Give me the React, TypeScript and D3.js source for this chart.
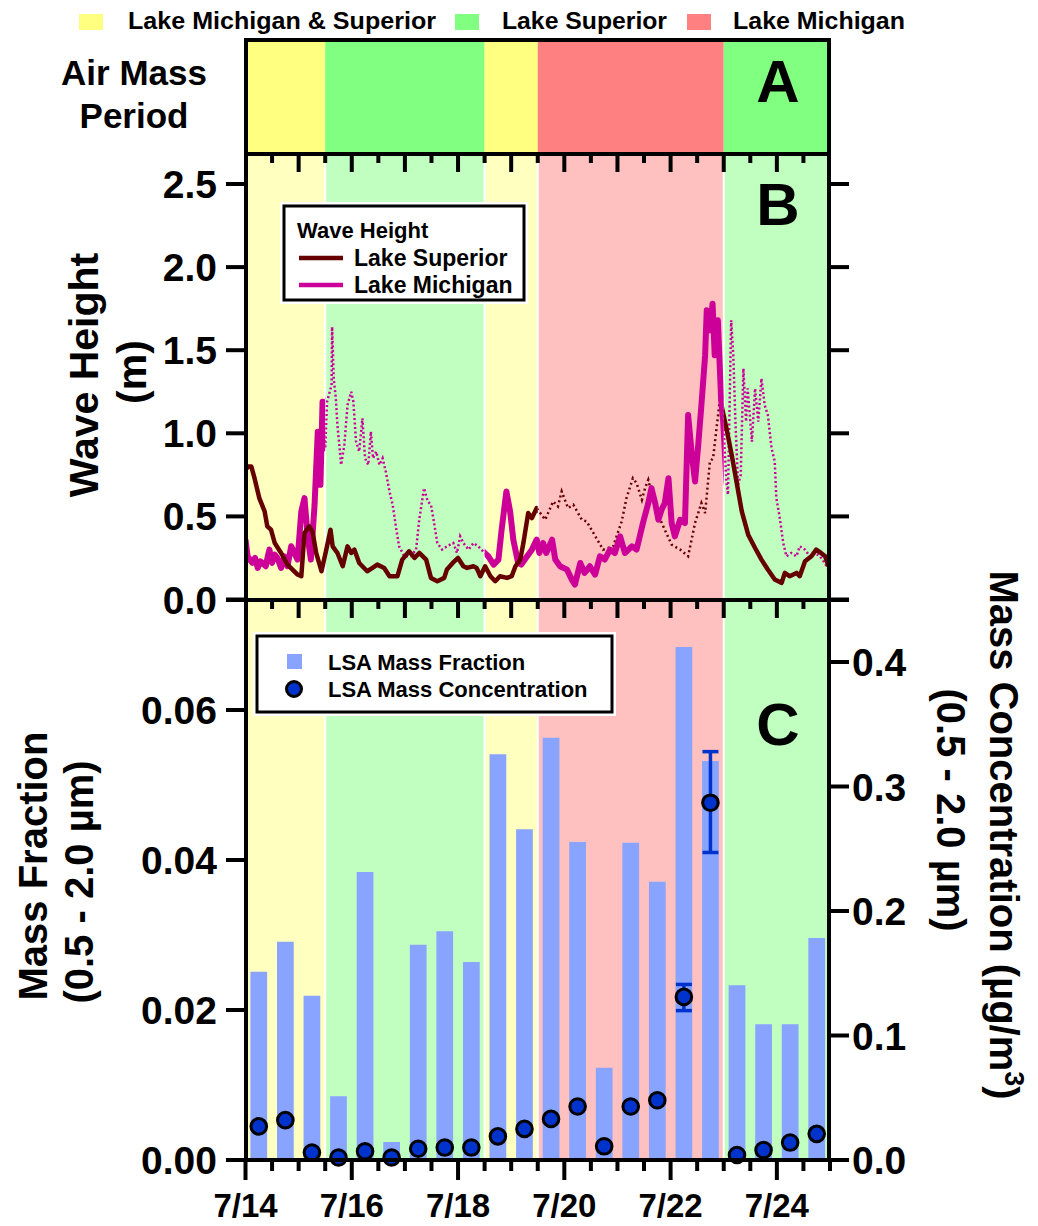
import React from "react";
import * as d3 from "d3";

// ---- Air mass periods (days since 7/14 00:00) ----
const periodStart = [0, 1.5, 4.5, 5.5, 9.0];
const periodEnd = [1.5, 4.5, 5.5, 9.0, 11];
const periodType = ["both", "superior", "both", "michigan", "superior"];

const legendLabels = ["Lake Michigan & Superior", "Lake Superior", "Lake Michigan"];
const legendTypes = ["both", "superior", "michigan"];

// ---- Wave height (m) [day, value] ----
const superiorWave: [number, number][] = [
  [0.0, 0.78], [0.05, 0.8], [0.11, 0.8], [0.17, 0.73], [0.26, 0.61], [0.36, 0.53], [0.41, 0.44],
  [0.48, 0.42], [0.55, 0.34], [0.67, 0.28], [0.79, 0.21], [0.98, 0.15], [1.05, 0.14], [1.11, 0.4],
  [1.2, 0.44], [1.26, 0.41], [1.33, 0.28], [1.43, 0.17], [1.52, 0.3], [1.6, 0.42], [1.64, 0.32],
  [1.73, 0.28], [1.83, 0.2], [1.92, 0.32], [1.99, 0.28], [2.05, 0.3], [2.14, 0.22], [2.29, 0.17],
  [2.39, 0.19], [2.48, 0.21], [2.61, 0.19], [2.71, 0.14], [2.86, 0.14], [2.95, 0.24], [3.08, 0.29],
  [3.18, 0.25], [3.27, 0.28], [3.4, 0.24], [3.49, 0.13], [3.61, 0.11], [3.74, 0.13], [3.79, 0.18],
  [3.9, 0.22], [4.0, 0.25], [4.1, 0.2], [4.17, 0.19], [4.29, 0.2], [4.35, 0.19], [4.42, 0.14],
  [4.51, 0.2], [4.61, 0.14], [4.7, 0.11], [4.79, 0.14], [4.92, 0.13], [5.01, 0.14], [5.08, 0.2],
  [5.17, 0.24], [5.23, 0.34], [5.32, 0.52], [5.39, 0.49], [5.48, 0.55], [5.64, 0.48], [5.79, 0.59],
  [5.88, 0.56], [5.95, 0.65], [6.07, 0.55], [6.17, 0.57], [6.33, 0.48], [6.42, 0.47], [6.73, 0.3],
  [6.92, 0.32], [7.08, 0.47], [7.17, 0.61], [7.29, 0.73], [7.36, 0.7], [7.46, 0.6], [7.52, 0.67],
  [7.58, 0.72], [7.71, 0.55], [7.89, 0.42], [8.02, 0.33], [8.18, 0.3], [8.33, 0.26], [8.46, 0.46],
  [8.58, 0.58], [8.65, 0.52], [8.74, 0.83], [8.8, 0.85], [8.93, 1.21], [9.05, 1.03], [9.15, 0.87],
  [9.24, 0.71], [9.34, 0.53], [9.46, 0.39], [9.59, 0.31], [9.71, 0.24], [9.83, 0.18], [9.96, 0.12],
  [10.09, 0.1], [10.15, 0.16], [10.24, 0.14], [10.37, 0.16], [10.43, 0.14], [10.53, 0.23],
  [10.65, 0.26], [10.74, 0.3], [10.83, 0.28], [10.91, 0.26], [10.97, 0.2],
];

const michiganWave: [number, number][] = [
  [0.0, 0.36], [0.04, 0.26], [0.08, 0.24], [0.13, 0.22], [0.18, 0.25], [0.23, 0.19], [0.28, 0.23],
  [0.32, 0.22], [0.38, 0.2], [0.42, 0.26], [0.45, 0.3], [0.5, 0.22], [0.55, 0.27], [0.6, 0.25],
  [0.67, 0.19], [0.73, 0.26], [0.79, 0.2], [0.86, 0.32], [0.92, 0.28], [0.98, 0.24], [1.05, 0.53],
  [1.11, 0.61], [1.17, 0.38], [1.23, 0.24], [1.3, 0.57], [1.36, 1.01], [1.41, 0.69], [1.45, 1.19],
  [1.5, 0.91], [1.535, 1.19], [1.62, 1.29], [1.63, 1.64], [1.66, 1.33], [1.7, 1.21], [1.73, 1.05],
  [1.8, 0.81], [1.86, 0.93], [1.92, 1.17], [1.99, 1.25], [2.03, 1.19], [2.08, 0.95], [2.14, 0.89],
  [2.2, 1.09], [2.25, 0.85], [2.31, 0.81], [2.36, 1.01], [2.4, 0.85], [2.46, 0.89], [2.52, 0.81],
  [2.58, 0.85], [2.64, 0.77], [2.71, 0.65], [2.77, 0.57], [2.83, 0.44], [2.89, 0.32], [2.99, 0.26],
  [3.11, 0.26], [3.21, 0.3], [3.27, 0.48], [3.36, 0.67], [3.43, 0.59], [3.49, 0.57], [3.55, 0.46],
  [3.61, 0.34], [3.7, 0.3], [3.79, 0.32], [3.91, 0.34], [3.98, 0.28], [4.04, 0.38], [4.1, 0.34],
  [4.2, 0.3], [4.29, 0.34], [4.38, 0.32], [4.44, 0.3], [4.5, 0.28], [4.57, 0.26], [4.67, 0.21],
  [4.76, 0.24], [4.82, 0.42], [4.91, 0.65], [4.98, 0.53], [5.04, 0.36], [5.13, 0.22], [5.19, 0.21],
  [5.3, 0.26], [5.39, 0.3], [5.48, 0.36], [5.53, 0.28], [5.6, 0.34], [5.66, 0.28], [5.77, 0.36],
  [5.83, 0.24], [5.92, 0.2], [6.05, 0.18], [6.14, 0.12], [6.2, 0.09], [6.3, 0.22], [6.38, 0.16],
  [6.48, 0.2], [6.58, 0.15], [6.67, 0.26], [6.76, 0.24], [6.86, 0.3], [6.95, 0.28], [7.05, 0.38],
  [7.14, 0.28], [7.27, 0.32], [7.36, 0.3], [7.42, 0.38], [7.48, 0.46], [7.58, 0.58], [7.64, 0.67],
  [7.71, 0.58], [7.77, 0.48], [7.83, 0.54], [7.89, 0.58], [7.96, 0.73], [8.02, 0.46], [8.08, 0.38],
  [8.18, 0.48], [8.27, 0.46], [8.33, 1.11], [8.4, 0.87], [8.46, 0.71], [8.52, 0.93], [8.58, 1.17],
  [8.65, 1.47], [8.68, 1.74], [8.74, 1.62], [8.79, 1.78], [8.83, 1.47], [8.89, 1.68], [8.95, 1.21],
  [8.99, 1.07], [9.05, 0.71], [9.08, 0.63], [9.14, 1.68], [9.18, 1.47], [9.22, 1.07], [9.27, 0.69],
  [9.32, 0.75], [9.37, 1.39], [9.42, 1.07], [9.45, 1.27], [9.53, 0.95], [9.59, 1.27], [9.65, 1.07],
  [9.71, 1.33], [9.77, 1.17], [9.83, 1.11], [9.9, 0.91], [9.96, 0.83], [9.99, 0.61], [10.05, 0.5],
  [10.12, 0.34], [10.18, 0.26], [10.27, 0.28], [10.37, 0.26], [10.43, 0.32], [10.53, 0.3],
  [10.62, 0.26], [10.72, 0.28], [10.81, 0.26], [10.9, 0.22], [10.97, 0.18],
];

// ---- LSA samples (12 h samples, centre time in days) ----
const sampleTimes = [0.25, 0.75, 1.25, 1.75, 2.25, 2.75, 3.25, 3.75, 4.25, 4.75, 5.25, 5.75, 6.25, 6.75, 7.25, 7.75, 8.25, 8.75, 9.25, 9.75, 10.25, 10.75];
const massFraction = [0.0251, 0.0291, 0.0219, 0.0085, 0.0384, 0.0024, 0.0287, 0.0305, 0.0264, 0.0541, 0.0441, 0.0563, 0.0424, 0.0123, 0.0423, 0.0371, 0.0684, 0.0532, 0.0233, 0.0181, 0.0181, 0.0296];
const massConc = [0.027, 0.032, 0.006, 0.002, 0.007, 0.002, 0.009, 0.01, 0.01, 0.019, 0.025, 0.033, 0.043, 0.011, 0.043, 0.048, 0.131, 0.287, 0.004, 0.008, 0.014, 0.021];
const errIndex = [16, 17];
const errLow = [0.12, 0.247];
const errHigh = [0.141, 0.328];

// ---- ticks ----
const xTickDays = [0, 2, 4, 6, 8, 10];
const xTickLabels = ["7/14", "7/16", "7/18", "7/20", "7/22", "7/24"];
const waveTicks = [0, 0.5, 1.0, 1.5, 2.0, 2.5];
const waveTickLabels = ["0.0", "0.5", "1.0", "1.5", "2.0", "2.5"];
const fracTicks = [0, 0.02, 0.04, 0.06];
const fracTickLabels = ["0.00", "0.02", "0.04", "0.06"];
const concTicks = [0, 0.1, 0.2, 0.3, 0.4];
const concTickLabels = ["0.0", "0.1", "0.2", "0.3", "0.4"];

const strong: Record<string, string> = { both: "#ffff80", superior: "#80ff80", michigan: "#ff8080" };
const light: Record<string, string> = { both: "#ffffc0", superior: "#c0ffc0", michigan: "#ffc0c0" };

const FONT = "'Liberation Sans', Arial, Helvetica, sans-serif";
const SUP = "#660000";
const MIC = "#cc0099";
const BAR = "#88a4ff";
const DOT = "#0033cc";

export default function App() {
  const L = 246, R = 829;
  const aTop = 40, aBot = 154, bBot = 600, cBot = 1160;
  const x = d3.scaleLinear().domain([0, 11]).range([245.5, 830]);
  const yB = d3.scaleLinear().domain([0, 2.5]).range([599.5, 184]);
  const yC = d3.scaleLinear().domain([0, 0.06]).range([1160, 710]);
  const yC2 = d3.scaleLinear().domain([0, 0.4]).range([1160, 662]);
  const line = d3.line<[number, number]>().x((d) => x(d[0])).y((d) => yB(d[1]));
  const halfDays = d3.range(0, 22.5, 1).map((k) => k / 2);
  const barW = x(0.315) - x(0);

  const idx = periodStart.map((_, i) => i);
  const clipRects = (pred: (t: string) => boolean) =>
    idx.filter((i) => pred(periodType[i])).map((i) => (
      <rect key={i} x={x(periodStart[i])} y={aBot} width={x(periodEnd[i]) - x(periodStart[i])} height={bBot - aBot} />
    ));

  const txt = { fontFamily: FONT, fontWeight: 700 as const, fill: "#000" };

  return (
    <svg width={1038} height={1226} style={{ position: "absolute", left: 0, top: 0, background: "#fff" }}>
      <defs>
        <clipPath id="supSolid">{clipRects((t) => t !== "michigan")}</clipPath>
        <clipPath id="supDot">{clipRects((t) => t === "michigan")}</clipPath>
        <clipPath id="micSolid">{clipRects((t) => t !== "superior")}</clipPath>
        <clipPath id="micDot">{clipRects((t) => t === "superior")}</clipPath>
      </defs>

      {/* top legend */}
      {legendLabels.map((lab, i) => {
        const sx = [79, 455, 687][i];
        const tx = [128, 502, 733][i];
        const tl = [308, 165, 172][i];
        return (
          <g key={lab}>
            <rect x={sx} y={14} width={24} height={16} fill={strong[legendTypes[i]]} />
            <text x={tx} y={29} fontSize={23} textLength={tl} lengthAdjust="spacingAndGlyphs" {...txt}>{lab}</text>
          </g>
        );
      })}

      {/* Panel A */}
      <text x={134} y={85} fontSize={35} textAnchor="middle" {...txt}>Air Mass</text>
      <text x={134} y={128} fontSize={35} textAnchor="middle" {...txt}>Period</text>
      {idx.map((i) => (
        <rect key={i} x={x(periodStart[i])} y={aTop} width={x(periodEnd[i]) - x(periodStart[i])} height={aBot - aTop} fill={strong[periodType[i]]} />
      ))}
      <text x={778} y={102} fontSize={60} textAnchor="middle" {...txt}>A</text>

      {/* Panel B & C backgrounds */}
      {idx.map((i) => (
        <rect key={"bg" + i} x={x(periodStart[i])} y={aBot} width={x(periodEnd[i]) - x(periodStart[i])} height={cBot - aBot} fill={light[periodType[i]]} />
      ))}
      {periodStart.slice(1).map((t) => (
        <line key={"sep" + t} x1={x(t)} x2={x(t)} y1={aBot + 2} y2={cBot} stroke="#fff" strokeWidth={2} />
      ))}

      {/* Panel B lines */}
      <path d={line(superiorWave) || ""} fill="none" stroke={SUP} strokeWidth={2.5} strokeDasharray="2 3" clipPath="url(#supDot)" />
      <path d={line(michiganWave) || ""} fill="none" stroke={MIC} strokeWidth={2.5} strokeDasharray="2 2.5" clipPath="url(#micDot)" />
      <path d={line(michiganWave) || ""} fill="none" stroke={MIC} strokeWidth={6} strokeLinejoin="round" clipPath="url(#micSolid)" />
      <path d={line(superiorWave) || ""} fill="none" stroke={SUP} strokeWidth={4.5} strokeLinejoin="round" clipPath="url(#supSolid)" />

      {/* Panel B legend */}
      <rect x={280} y={202} width={248} height={102} fill="#fff" />
      <rect x={284} y={206} width={240} height={94} fill="#fff" stroke="#000" strokeWidth={3} />
      <text x={297} y={238} fontSize={22} {...txt}>Wave Height</text>
      <line x1={299} x2={343} y1={258} y2={258} stroke={SUP} strokeWidth={4.5} />
      <text x={354} y={266} fontSize={23} {...txt}>Lake Superior</text>
      <line x1={299} x2={343} y1={285} y2={285} stroke={MIC} strokeWidth={4.5} />
      <text x={354} y={293} fontSize={23} {...txt}>Lake Michigan</text>
      <text x={778} y={225} fontSize={60} textAnchor="middle" {...txt}>B</text>

      {/* Panel C bars, error bars, dots */}
      {sampleTimes.map((t, i) => (
        <rect key={"bar" + i} x={x(t) - barW / 2} y={yC(massFraction[i])} width={barW} height={yC(0) - yC(massFraction[i])} fill={BAR} />
      ))}
      {errIndex.map((k, j) => {
        const cx = x(sampleTimes[k]);
        return (
          <g key={"err" + k} stroke={DOT} strokeWidth={3.5}>
            <line x1={cx} x2={cx} y1={yC2(errLow[j])} y2={yC2(errHigh[j])} />
            <line x1={cx - 8} x2={cx + 8} y1={yC2(errLow[j])} y2={yC2(errLow[j])} />
            <line x1={cx - 8} x2={cx + 8} y1={yC2(errHigh[j])} y2={yC2(errHigh[j])} />
          </g>
        );
      })}
      {sampleTimes.map((t, i) => (
        <circle key={"dot" + i} cx={x(t)} cy={yC2(massConc[i])} r={7.8} fill={DOT} stroke="#000" strokeWidth={3} />
      ))}

      {/* Panel C legend */}
      <rect x={253} y={632} width={363} height={84} fill="#fff" />
      <rect x={257} y={636} width={355} height={76} fill="#fff" stroke="#000" strokeWidth={3} />
      <rect x={287} y={654} width={15} height={15} fill={BAR} />
      <text x={328} y={670} fontSize={22} {...txt}>LSA Mass Fraction</text>
      <circle cx={294} cy={689} r={7.5} fill={DOT} stroke="#000" strokeWidth={3} />
      <text x={328} y={697} fontSize={22} {...txt}>LSA Mass Concentration</text>
      <text x={778} y={745} fontSize={60} textAnchor="middle" {...txt}>C</text>

      {/* Frames */}
      <g stroke="#000" strokeWidth={4} fill="none">
        <line x1={L} x2={L} y1={aTop - 2} y2={cBot + 2} />
        <line x1={R} x2={R} y1={aTop - 2} y2={cBot + 2} />
        <line x1={L - 2} x2={R + 2} y1={aTop} y2={aTop} />
        <line x1={L - 2} x2={R + 2} y1={aBot} y2={aBot} />
        <line x1={L - 20} x2={R + 20} y1={bBot} y2={bBot} />
        <line x1={L - 20} x2={R + 20} y1={cBot} y2={cBot} />
      </g>

      {/* Panel B ticks */}
      <g stroke="#000" strokeWidth={4}>
        {waveTicks.map((v) => (
          <g key={"wt" + v}>
            <line x1={L - 20} x2={L} y1={yB(v)} y2={yB(v)} />
            <line x1={R} x2={R + 20} y1={yB(v)} y2={yB(v)} />
          </g>
        ))}
        {halfDays.filter((t) => t > 0 && t < 11).map((t) => (
          <g key={"bt" + t}>
            <line x1={x(t)} x2={x(t)} y1={aBot} y2={aBot + (t % 1 === 0 ? 18 : 9)} />
            <line x1={x(t)} x2={x(t)} y1={bBot} y2={bBot + (t % 1 === 0 ? 18 : 9)} />
          </g>
        ))}
      </g>
      {waveTicks.map((v, i) => (
        <text key={"wl" + v} x={217} y={yB(v)} dy="0.36em" fontSize={39} textAnchor="end" {...txt}>{waveTickLabels[i]}</text>
      ))}

      {/* Panel C ticks */}
      <g stroke="#000" strokeWidth={4}>
        {fracTicks.map((v) => (
          <line key={"ft" + v} x1={L - 20} x2={L} y1={yC(v)} y2={yC(v)} />
        ))}
        {concTicks.map((v) => (
          <line key={"ct" + v} x1={R} x2={R + 20} y1={yC2(v)} y2={yC2(v)} />
        ))}
        {halfDays.map((t) => (
          <line key={"xt" + t} x1={x(t)} x2={x(t)} y1={cBot} y2={cBot + (t % 2 === 0 ? 20 : 11)} />
        ))}
      </g>
      {fracTicks.map((v, i) => (
        <text key={"fl" + v} x={217} y={yC(v)} dy="0.36em" fontSize={39} textAnchor="end" {...txt}>{fracTickLabels[i]}</text>
      ))}
      {concTicks.map((v, i) => (
        <text key={"cl" + v} x={852} y={yC2(v)} dy="0.36em" fontSize={39} textAnchor="start" {...txt}>{concTickLabels[i]}</text>
      ))}
      {xTickDays.map((t, i) => (
        <text key={"xl" + t} x={x(t)} y={1217} fontSize={33} textAnchor="middle" {...txt}>{xTickLabels[i]}</text>
      ))}

      {/* Axis titles */}
      <g transform="translate(98,375) rotate(-90)">
        <text x={0} y={0} fontSize={41} textAnchor="middle" {...txt}>Wave Height</text>
      </g>
      <g transform="translate(146,372) rotate(-90)">
        <text x={0} y={0} fontSize={41} textAnchor="middle" {...txt}>(m)</text>
      </g>
      <g transform="translate(47,866) rotate(-90)">
        <text x={0} y={0} fontSize={40} textAnchor="middle" {...txt}>Mass Fraction</text>
      </g>
      <g transform="translate(93,882) rotate(-90)">
        <text x={0} y={0} fontSize={40} textAnchor="middle" {...txt}>(0.5 - 2.0 µm)</text>
      </g>
      <g transform="translate(990,835) rotate(90)">
        <text x={0} y={0} fontSize={40} textAnchor="middle" {...txt}>
          Mass Concentration (µg/m<tspan dy={-15} fontSize={27}>3</tspan><tspan dy={15}>)</tspan>
        </text>
      </g>
      <g transform="translate(937,810) rotate(90)">
        <text x={0} y={0} fontSize={40} textAnchor="middle" {...txt}>(0.5 - 2.0 µm)</text>
      </g>
    </svg>
  );
}
